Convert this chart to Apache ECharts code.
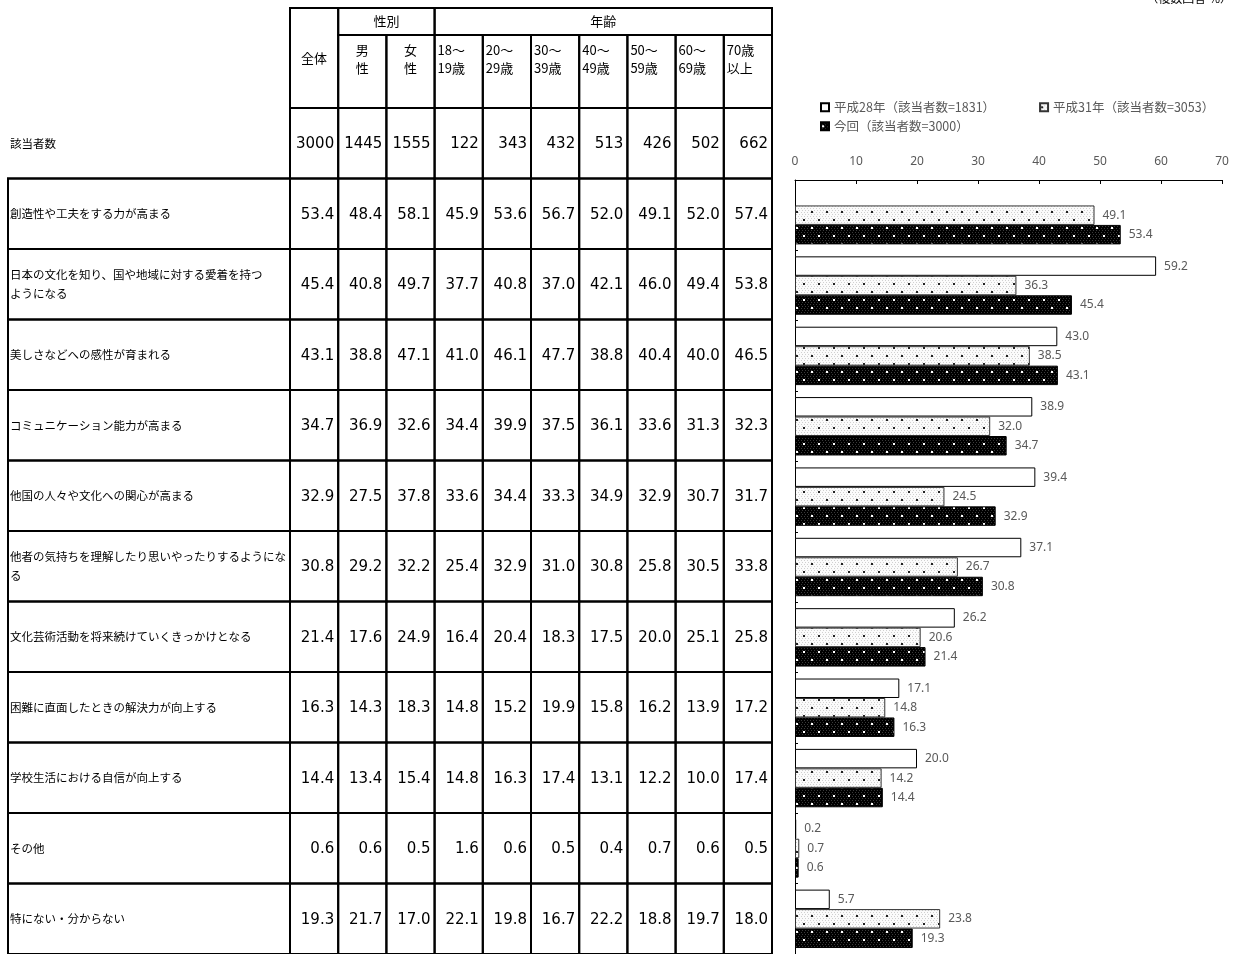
<!DOCTYPE html>
<html><head><meta charset="utf-8">
<script src="https://cdn.jsdelivr.net/npm/echarts@6/dist/echarts.min.js"></script>
<style>html,body{margin:0;padding:0;background:#fff}#chart{width:1240px;height:954px}</style>
</head><body><div id="chart"></div>
<script>
// ---------------- data ----------------
const items = [
  '創造性や工夫をする力が高まる',
  '日本の文化を知り、国や地域に対する愛着を持つ\nようになる',
  '美しさなどへの感性が育まれる',
  'コミュニケーション能力が高まる',
  '他国の人々や文化への関心が高まる',
  '他者の気持ちを理解したり思いやったりするようにな\nる',
  '文化芸術活動を将来続けていくきっかけとなる',
  '困難に直面したときの解決力が向上する',
  '学校生活における自信が向上する',
  'その他',
  '特にない・分からない'
];
const countLabel = '該当者数';
const columnLabels = ['全体','男\n性','女\n性','18～\n19歳','20～\n29歳','30～\n39歳','40～\n49歳','50～\n59歳','60～\n69歳','70歳\n以上'];
const columnGroups = [{name:'性別', from:1, to:2}, {name:'年齢', from:3, to:9}];
const respondentCounts = [3000,1445,1555,122,343,432,513,426,502,662];
const tableValues = [
  [53.4,48.4,58.1,45.9,53.6,56.7,52.0,49.1,52.0,57.4],
  [45.4,40.8,49.7,37.7,40.8,37.0,42.1,46.0,49.4,53.8],
  [43.1,38.8,47.1,41.0,46.1,47.7,38.8,40.4,40.0,46.5],
  [34.7,36.9,32.6,34.4,39.9,37.5,36.1,33.6,31.3,32.3],
  [32.9,27.5,37.8,33.6,34.4,33.3,34.9,32.9,30.7,31.7],
  [30.8,29.2,32.2,25.4,32.9,31.0,30.8,25.8,30.5,33.8],
  [21.4,17.6,24.9,16.4,20.4,18.3,17.5,20.0,25.1,25.8],
  [16.3,14.3,18.3,14.8,15.2,19.9,15.8,16.2,13.9,17.2],
  [14.4,13.4,15.4,14.8,16.3,17.4,13.1,12.2,10.0,17.4],
  [0.6,0.6,0.5,1.6,0.6,0.5,0.4,0.7,0.6,0.5],
  [19.3,21.7,17.0,22.1,19.8,16.7,22.2,18.8,19.7,18.0]
];
const seriesNames = ['平成28年（該当者数=1831）','平成31年（該当者数=3053）','今回（該当者数=3000）'];
const valuesH28 = [null,59.2,43.0,38.9,39.4,37.1,26.2,17.1,20.0,0.2,5.7];
const valuesH31 = [49.1,36.3,38.5,32.0,24.5,26.7,20.6,14.8,14.2,0.7,23.8];
const valuesNow = [53.4,45.4,43.1,34.7,32.9,30.8,21.4,16.3,14.4,0.6,19.3];
const axisMin = 0, axisMax = 70, axisStep = 10;
const noteText = '（複数回答 %）';

// ---------------- patterns ----------------
function makePattern(bg, texture, dot) {
  const c = document.createElement('canvas');
  c.width = 15; c.height = 16;
  const g = c.getContext('2d');
  g.fillStyle = bg; g.fillRect(0, 0, 15, 16);
  g.fillStyle = texture;
  for (let y = 0; y < 16; y += 2) for (let x = (y / 2) % 2; x < 15; x += 3) g.fillRect(x, y, 1, 1);
  g.fillStyle = dot;
  g.fillRect(1, 3, 2, 2);
  g.fillRect(8, 11, 2, 2);
  return c;
}
const patLight = makePattern('#fbfbfb', '#d0d0d0', '#222');
const patDark = makePattern('#000', '#3a3a3a', '#fff');

// ---------------- layout ----------------
const tblLeft = 290, tblWidth = 482, labelColLeft = 8;
const hdrTop = 8, hdrHeight = 100;
const rowH = 70.7;
const tblTop = 108;
const rowLabels = [countLabel].concat(items);

const headerCells = [];
columnLabels.forEach((lab, i) => {
  const grp = columnGroups.find(g => i >= g.from && i <= g.to);
  headerCells.push({c0: i, c1: i, top: grp ? 27 : 0, bottom: 100, text: lab,
    kind: grp ? (grp.name === '年齢' ? 'age' : 'sub') : 'solo'});
});
columnGroups.forEach(g => headerCells.push({c0: g.from, c1: g.to, top: 0, bottom: 27, text: g.name, kind: 'group'}));

const cellData = [];
rowLabels.forEach((_, r) => {
  for (let c = 0; c < columnLabels.length; c++) {
    cellData.push([c, r, r === 0 ? respondentCounts[c] : tableValues[r - 1][c]]);
  }
});

const FONT_JP = '"Noto Sans CJK JP", "Noto Sans", sans-serif';

function renderHeader(params, api) {
  const h = headerCells[params.dataIndex];
  const w = api.size([1, 0])[0];
  const p0 = api.coord([api.value(0), api.value(2)]);
  const p1 = api.coord([api.value(1), api.value(3)]);
  const x0 = p0[0] - w / 2, x1 = p1[0] + w / 2, y0 = p0[1], y1 = p1[1];
  let tx, ty, align, va;
  if (h.kind === 'age') { tx = x0 + 3; ty = y0 + 6; align = 'left'; va = 'top'; }
  else if (h.kind === 'sub') { tx = (x0 + x1) / 2; ty = y0 + 6; align = 'center'; va = 'top'; }
  else { tx = (x0 + x1) / 2; ty = (y0 + y1) / 2; align = 'center'; va = 'middle'; }
  return {type: 'group', children: [
    {type: 'rect', shape: {x: x0, y: y0, width: x1 - x0, height: y1 - y0},
     style: {fill: 'none', stroke: '#000', lineWidth: 2}},
    {type: 'text', style: {text: h.text, x: tx, y: ty, align: align, verticalAlign: va,
      fontSize: 13, fontFamily: FONT_JP, fill: '#000', lineHeight: 18}}
  ]};
}

function renderCell(params, api) {
  const col = api.value(0), row = api.value(1), v = api.value(2);
  const c = api.coord([col, row]);
  const s = api.size([1, 1]);
  const x0 = c[0] - s[0] / 2, y0 = c[1] - s[1] / 2;
  const children = [
    {type: 'rect', shape: {x: x0, y: y0, width: s[0], height: s[1]},
     style: {fill: 'none', stroke: '#000', lineWidth: 2}},
    {type: 'text', style: {text: row === 0 ? String(v) : v.toFixed(1), x: x0 + s[0] - 4, y: c[1] + 1,
      align: 'right', verticalAlign: 'middle', fontSize: 15, fontFamily: '"DejaVu Sans", Verdana, sans-serif', fill: '#000'}}
  ];
  if (col === 0 && row > 0) {
    children.push({type: 'rect', shape: {x: labelColLeft, y: y0, width: x0 - labelColLeft, height: s[1]},
      style: {fill: 'none', stroke: '#000', lineWidth: 2}});
  }
  if (col === 0 && row === 0) {
    children.push({type: 'line', shape: {x1: labelColLeft - 1, y1: y0 + s[1], x2: x0, y2: y0 + s[1]},
      style: {stroke: '#000', lineWidth: 2}});
  }
  return {type: 'group', children};
}

const labelStyle = {show: true, position: 'right', distance: 8, color: '#595959', fontSize: 12,
  fontFamily: '"Noto Sans", "Open Sans", sans-serif', formatter: p => p.value == null ? '' : Number(p.value).toFixed(1)};

const chart = echarts.init(document.getElementById('chart'));
chart.setOption({
  animation: false,
  backgroundColor: '#fff',
  graphic: [{type: 'text', right: 8, top: -8, style: {text: noteText, fontSize: 12, fontFamily: FONT_JP, fill: '#000'}}],
  legend: [
    {data: [seriesNames[0], seriesNames[1]], left: 815, top: 96, itemGap: 44, itemWidth: 8, itemHeight: 8,
     icon: 'rect', textStyle: {fontSize: 12.5, color: '#595959', fontFamily: FONT_JP}, selectedMode: false},
    {data: [seriesNames[2]], left: 815, top: 115, itemWidth: 8, itemHeight: 8,
     icon: 'rect', textStyle: {fontSize: 12.5, color: '#595959', fontFamily: FONT_JP}, selectedMode: false}
  ],
  grid: [
    {left: 795, right: 18, top: 180, height: 11 * rowH, containLabel: false},
    {left: tblLeft, width: tblWidth, top: tblTop, height: 12 * rowH},
    {left: tblLeft, width: tblWidth, top: hdrTop, height: hdrHeight}
  ],
  xAxis: [
    {gridIndex: 0, type: 'value', position: 'top', min: axisMin, max: axisMax, interval: axisStep,
     axisLine: {show: true, lineStyle: {color: '#000', width: 1}},
     axisTick: {show: true, inside: true, length: 4, lineStyle: {color: '#000'}},
     axisLabel: {color: '#595959', fontSize: 12, margin: 12, fontFamily: '"Noto Sans", sans-serif'},
     splitLine: {show: false}},
    {gridIndex: 1, type: 'category', data: columnLabels, show: false},
    {gridIndex: 2, type: 'category', data: columnLabels, show: false}
  ],
  yAxis: [
    {gridIndex: 0, type: 'category', data: items, inverse: true,
     axisLine: {show: true, lineStyle: {color: '#000', width: 1}},
     axisTick: {show: true, inside: true, length: 3, lineStyle: {color: '#000'}},
     axisLabel: {show: false}, splitLine: {show: false}},
    {gridIndex: 1, type: 'category', data: rowLabels, inverse: true,
     axisLine: {show: false}, axisTick: {show: false},
     axisLabel: {show: true, interval: 0, align: 'left', margin: tblLeft - 10, color: '#000',
       fontSize: 11.5, lineHeight: 19, fontFamily: FONT_JP}},
    {gridIndex: 2, type: 'value', min: 0, max: 100, inverse: true, show: false}
  ],
  series: [
    {name: seriesNames[0], type: 'bar', xAxisIndex: 0, yAxisIndex: 0, data: valuesH28,
     barGap: '0%', barCategoryGap: '17%',
     itemStyle: {color: '#fff', borderColor: '#000', borderWidth: 1}, label: labelStyle},
    {name: seriesNames[1], type: 'bar', xAxisIndex: 0, yAxisIndex: 0, data: valuesH31,
     barGap: '0%', barCategoryGap: '17%',
     itemStyle: {color: {image: patLight, repeat: 'repeat'}, borderColor: '#333', borderWidth: 1}, label: labelStyle},
    {name: seriesNames[2], type: 'bar', xAxisIndex: 0, yAxisIndex: 0, data: valuesNow,
     barGap: '0%', barCategoryGap: '17%',
     itemStyle: {color: {image: patDark, repeat: 'repeat'}, borderColor: '#000', borderWidth: 1}, label: labelStyle},
    {type: 'custom', xAxisIndex: 1, yAxisIndex: 1, data: cellData, renderItem: renderCell, silent: true},
    {type: 'custom', xAxisIndex: 2, yAxisIndex: 2,
     data: headerCells.map(h => [h.c0, h.c1, h.top, h.bottom]), renderItem: renderHeader, silent: true}
  ]
});
</script></body></html>
